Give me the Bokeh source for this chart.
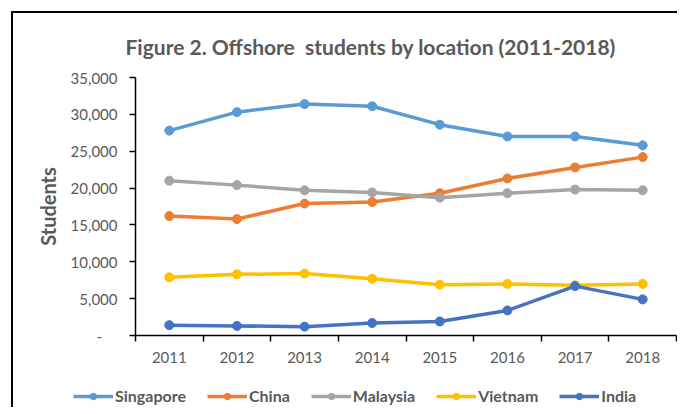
from bokeh.plotting import figure
from bokeh.models import FixedTicker, NumeralTickFormatter, Legend, LegendItem, Range1d
from bokeh.embed import file_html
from bokeh.resources import INLINE

years = ["2011", "2012", "2013", "2014", "2015", "2016", "2017", "2018"]
singapore = [27800, 30300, 31400, 31100, 28600, 27000, 27000, 25800]
china = [16200, 15800, 17900, 18100, 19300, 21300, 22800, 24200]
malaysia = [21000, 20400, 19700, 19400, 18700, 19300, 19800, 19700]
vietnam = [7900, 8300, 8400, 7700, 6900, 7000, 6800, 7000]
india = [1400, 1300, 1200, 1700, 1900, 3400, 6700, 4900]

series_names = ["Singapore", "China", "Malaysia", "Vietnam", "India"]
series_values = [singapore, china, malaysia, vietnam, india]
series_colors = ["#5B9BD5", "#ED7D31", "#A5A5A5", "#FFC000", "#4472C4"]
y_ticks = [0, 5000, 10000, 15000, 20000, 25000, 30000, 35000]

FONT = "Lato"
GRAY = "#595959"

xs = [i + 0.5 for i in range(len(years))]

p = figure(width=666, height=358, output_backend="svg", toolbar_location=None,
           x_range=Range1d(0, len(years)), y_range=Range1d(0, 35000),
           min_border_left=122, min_border_right=3, min_border_top=64, min_border_bottom=36,
           styles={"margin-left": "11px", "margin-top": "11px",
                   "border-left": "2px solid #000", "border-top": "2px solid #000"})

p.outline_line_color = None
p.grid.visible = False
p.background_fill_color = "white"
p.border_fill_color = "white"

p.title.text = "Figure 2. Offshore\u00a0 students by location (2011-2018)"
p.title.text_font = FONT
p.title.text_font_size = "21px"
p.title.text_font_style = "bold"
p.title.text_color = GRAY
p.title.align = "left"
p.title.offset = -10
p.title.vertical_align = "middle"
p.title.standoff = 36

# y axis
ya = p.yaxis[0]
ya.ticker = FixedTicker(ticks=y_ticks)
ya.formatter = NumeralTickFormatter(format="0,0")
ya.major_label_overrides = {0: "-\u00a0\u00a0\u00a0\u00a0"}
ya.major_tick_out = 6
ya.major_tick_in = 0
ya.minor_tick_line_color = None
ya.axis_line_color = "black"
ya.axis_line_width = 1.5
ya.major_tick_line_color = "black"
ya.major_tick_line_width = 1.5
ya.major_label_text_font = FONT
ya.major_label_text_font_size = "15px"
ya.major_label_text_color = GRAY
ya.major_label_standoff = 12
ya.axis_label = "Students"
ya.axis_label_text_font = FONT
ya.axis_label_text_font_size = "20px"
ya.axis_label_text_font_style = "bold"
ya.axis_label_text_color = GRAY
ya.axis_label_standoff = 8

# x axis
xa = p.xaxis[0]
xa.ticker = FixedTicker(ticks=xs, minor_ticks=list(range(len(years) + 1)))
xa.major_label_overrides = {x: y for x, y in zip(xs, years)}
xa.major_tick_line_color = None
xa.minor_tick_line_color = "black"
xa.minor_tick_line_width = 1.5
xa.minor_tick_out = 6
xa.minor_tick_in = 0
xa.axis_line_color = "black"
xa.axis_line_width = 1.5
xa.major_label_text_font = FONT
xa.major_label_text_font_size = "15px"
xa.major_label_text_color = GRAY
xa.major_label_standoff = 10

for vals, col in zip(series_values, series_colors):
    p.line(xs, vals, line_width=3.5, color=col)
    p.scatter(xs, vals, size=9, color=col)

# legend strip below the chart (its own root so frames are not aligned)
pl = figure(width=666, height=38, output_backend="svg", toolbar_location=None, title=None,
            x_range=Range1d(-100, -99), y_range=Range1d(0, 1),
            min_border=0, min_border_left=0, min_border_right=0,
            min_border_top=0, min_border_bottom=0,
            x_axis_type=None, y_axis_type=None,
            styles={"margin-left": "11px", "border-left": "2px solid #000"})
pl.outline_line_color = None
pl.grid.visible = False

items = []
for name, vals, col in zip(series_names, series_values, series_colors):
    lr = pl.line(xs, vals, line_width=3.5, color=col)
    sr = pl.scatter(xs, vals, size=9, color=col)
    items.append(LegendItem(label=name, renderers=[lr, sr]))

legend = Legend(items=items, orientation="horizontal", location=(60, 2),
                glyph_width=40, glyph_height=16, label_height=16,
                label_standoff=2, spacing=21, padding=0, margin=0,
                border_line_color=None, background_fill_alpha=0,
                label_text_font=FONT, label_text_font_size="16px",
                label_text_font_style="bold", label_text_color=GRAY)
pl.add_layout(legend, "center")

open("out.html", "w").write(file_html([p, pl], INLINE))
